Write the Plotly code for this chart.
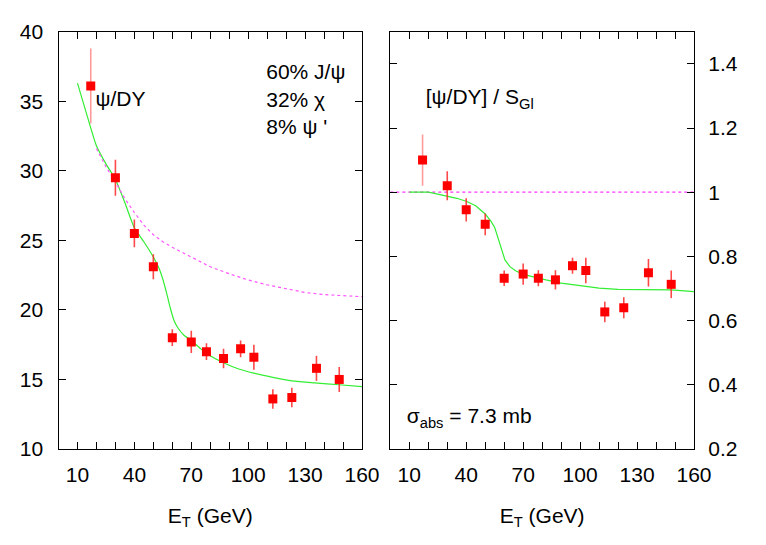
import plotly.graph_objects as go

# data -------------------------------------------------------------------
et = [17, 30, 40, 50, 60, 70, 78, 87, 96, 103, 113, 123, 136, 148]

psi_dy = [36.1, 29.5, 25.5, 23.1, 18.0, 17.7, 17.0, 16.5, 17.2, 16.6, 13.6, 13.7, 15.8, 15.0]
psi_dy_err = [2.7, 1.3, 1.0, 0.9, 0.6, 0.8, 0.6, 0.7, 0.6, 0.9, 0.7, 0.7, 0.9, 0.9]

ratio = [1.10, 1.02, 0.945, 0.90, 0.732, 0.745, 0.732, 0.727, 0.771, 0.756, 0.627, 0.640, 0.749, 0.713]
ratio_err = [0.08, 0.045, 0.036, 0.034, 0.024, 0.033, 0.025, 0.03, 0.025, 0.04, 0.032, 0.033, 0.043, 0.043]

# model curve, left panel (green)
fit_x = [10, 15, 20, 25, 30, 35, 40, 45, 50, 53, 55, 57, 59, 61, 63, 66, 70, 75, 80, 87, 95, 103, 113, 123, 135, 148, 160]
fit_y = [36.3, 34.0, 31.8, 30.5, 29.4, 27.7, 25.9, 24.9, 23.8, 23.0, 22.2, 21.2, 20.1, 19.2, 18.7, 18.2, 17.8, 17.2, 16.7, 16.2, 15.75, 15.45, 15.15, 14.9, 14.75, 14.62, 14.48]

# normal absorption only, left panel (magenta dotted)
abs_x = [20, 25, 30, 35, 40, 45, 50, 55, 60, 70, 80, 90, 100, 110, 120, 130, 140, 150, 160]
abs_y = [31.6, 30.3, 29.2, 28.0, 27.0, 26.1, 25.4, 24.9, 24.5, 23.8, 23.1, 22.6, 22.15, 21.8, 21.5, 21.25, 21.1, 21.0, 20.95]

# model curve, right panel (green)
rfit_x = [10, 20, 25, 30, 35, 40, 45, 50, 53, 55, 57.8, 60.4, 63, 66, 70, 76, 82, 90, 100, 110, 120, 130, 140, 148, 160]
rfit_y = [1.0, 1.0, 0.994, 0.988, 0.981, 0.972, 0.958, 0.932, 0.91, 0.89, 0.84, 0.789, 0.768, 0.755, 0.744, 0.735, 0.727, 0.717, 0.708, 0.701, 0.697, 0.697, 0.698, 0.696, 0.690]

x_ticks = list(range(10, 170, 10))
x_ticktext = [str(v) if v in (10, 40, 70, 100, 130, 160) else '' for v in x_ticks]
left_yticks = [10, 15, 20, 25, 30, 35, 40]
right_yticks = [0.2, 0.4, 0.6, 0.8, 1.0, 1.2, 1.4]
right_yticktext = ['0.2', '0.4', '0.6', '0.8', '1', '1.2', '1.4']

# labels inside the panels (data coordinates)
left_labels = ['ψ/DY', '60% J/ψ', '32% χ', "8% ψ '"]
left_label_x = [19.5, 109.5, 109.5, 109.5]
left_label_y = [35.0, 36.95, 34.95, 33.0]
right_labels = ['[ψ/DY] / S<sub>Gl</sub>', 'σ<sub>abs</sub> = 7.3 mb']
right_label_x = [18.7, 8.7]
right_label_y = [1.29, 0.297]
x_title = 'E<sub>T</sub> (GeV)'

# -------------------------------------------------------------------------
W, H = 766, 545
FONT = 'Liberation Sans, Arial, sans-serif'
FS = 21

def px(x):
    return x / W

def py(y):
    return 1 - y / H

err_colors = ['rgba(255,120,120,0.75)'] + ['rgba(255,40,40,0.85)'] * (len(et) - 1)
txt = dict(family=FONT, size=FS, color='black')

fig = go.Figure()

# left panel
fig.add_trace(go.Scatter(x=fit_x, y=fit_y, mode='lines', line=dict(color='#33ee33', width=1.2, shape='spline', smoothing=0.6),
                         xaxis='x', yaxis='y', showlegend=False))
fig.add_trace(go.Scatter(x=abs_x, y=abs_y, mode='lines', line=dict(color='#ff55ff', width=1.2, dash='dot'),
                         xaxis='x', yaxis='y', showlegend=False))
for i in range(len(et)):
    fig.add_trace(go.Scatter(x=[et[i]], y=[psi_dy[i]], mode='markers',
                             marker=dict(symbol='square', size=9, color='#ff0000'),
                             error_y=dict(type='data', array=[psi_dy_err[i]], color=err_colors[i], thickness=1.6, width=0),
                             xaxis='x', yaxis='y', showlegend=False))
fig.add_trace(go.Scatter(x=left_label_x, y=left_label_y, text=left_labels, mode='text',
                         textposition='middle right', textfont=txt, cliponaxis=False,
                         xaxis='x', yaxis='y', showlegend=False, hoverinfo='skip'))

# right panel
fig.add_trace(go.Scatter(x=[0, 160], y=[1, 1], mode='lines', line=dict(color='#ff33ff', width=1.2, dash='dot'),
                         xaxis='x2', yaxis='y2', showlegend=False))
fig.add_trace(go.Scatter(x=rfit_x, y=rfit_y, mode='lines', line=dict(color='#33ee33', width=1.2),
                         xaxis='x2', yaxis='y2', showlegend=False))
for i in range(len(et)):
    fig.add_trace(go.Scatter(x=[et[i]], y=[ratio[i]], mode='markers',
                             marker=dict(symbol='square', size=9, color='#ff0000'),
                             error_y=dict(type='data', array=[ratio_err[i]], color=err_colors[i], thickness=1.6, width=0),
                             xaxis='x2', yaxis='y2', showlegend=False))
fig.add_trace(go.Scatter(x=right_label_x, y=right_label_y, text=right_labels, mode='text',
                         textposition='middle right', textfont=txt, cliponaxis=False,
                         xaxis='x2', yaxis='y2', showlegend=False, hoverinfo='skip'))

axis_common = dict(showline=True, linecolor='black', linewidth=1.3, mirror='ticks', ticks='inside',
                   ticklen=7, tickwidth=1.2, tickcolor='black', showgrid=False, zeroline=False,
                   automargin=False, tickfont=dict(family=FONT, size=FS, color='black'))

fig.update_layout(
    width=W, height=H,
    margin=dict(l=0, r=0, t=0, b=0),
    paper_bgcolor='white', plot_bgcolor='white',
    xaxis=dict(domain=[px(58.5), px(362)], range=[0, 160], tickmode='array', tickvals=x_ticks,
               ticktext=x_ticktext, anchor='y', ticklabelstandoff=7,
               title=dict(text=x_title, font=txt, standoff=22), **axis_common),
    yaxis=dict(domain=[py(449), py(31.7)], range=[10, 40], tickmode='array', tickvals=left_yticks,
               anchor='x', ticklabelstandoff=10, **axis_common),
    xaxis2=dict(domain=[px(390.3), px(694)], range=[0, 160], tickmode='array', tickvals=x_ticks,
                ticktext=x_ticktext, anchor='y2', ticklabelstandoff=7,
                title=dict(text=x_title, font=txt, standoff=22), **axis_common),
    yaxis2=dict(domain=[py(449), py(31.7)], range=[0.2, 1.5], tickmode='array', tickvals=right_yticks,
                ticktext=right_yticktext, anchor='x2', side='right', ticklabelstandoff=9, **axis_common),
)

# page body has a default 8px margin; drop it so the figure sits at the window origin
fig.write_html("out.html", config={'displayModeBar': False},
               post_script="document.body.style.margin='0';")
